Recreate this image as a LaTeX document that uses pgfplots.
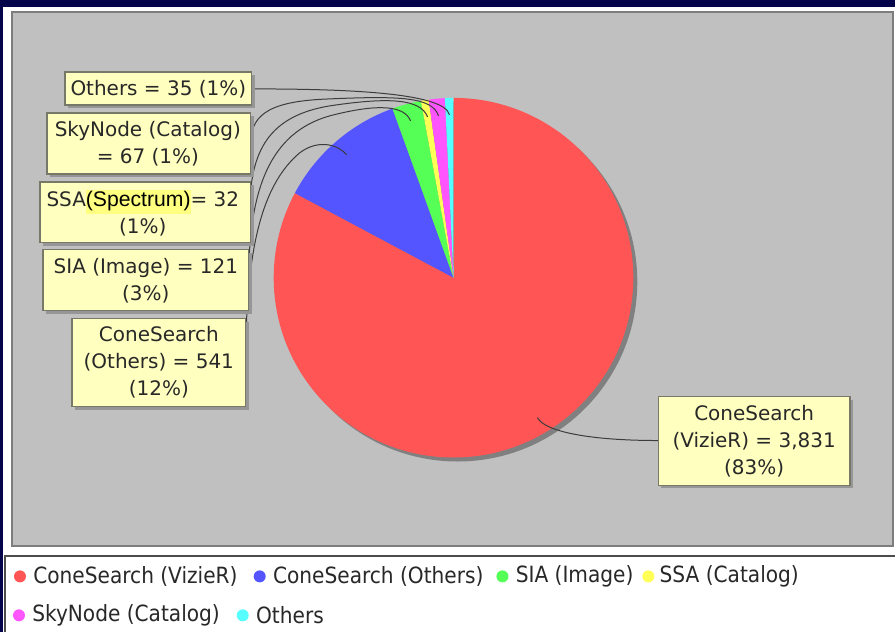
\documentclass[border=0pt]{standalone}
\usepackage{pgfplots}
\pgfplotsset{compat=1.18}
\usepackage{fontspec}
\setmainfont{DejaVu Sans}
\newfontfamily\legendfont{DejaVu Sans Condensed}
\newfontfamily\arialfont{Liberation Sans}
\definecolor{navy}{RGB}{4,4,74}
\definecolor{plotgray}{RGB}{192,192,192}
\definecolor{framegray}{RGB}{125,125,125}
\definecolor{labelbg}{RGB}{255,255,192}
\definecolor{labelborder}{RGB}{120,120,105}
\definecolor{labelshadow}{RGB}{150,150,150}
\definecolor{pieshadow}{RGB}{128,128,128}
\definecolor{cred}{RGB}{255,85,85}
\definecolor{cblue}{RGB}{85,85,255}
\definecolor{cgreen}{RGB}{85,255,85}
\definecolor{cyellow}{RGB}{255,255,85}
\definecolor{cmagenta}{RGB}{255,85,255}
\definecolor{ccyan}{RGB}{85,255,255}
\definecolor{hl}{RGB}{255,255,128}
\definecolor{leader}{RGB}{60,60,60}
\definecolor{txt}{RGB}{40,40,40}
\tikzset{labelbox/.style={fill=labelbg, draw=labelborder, line width=0.75pt}}
\begin{document}
\begin{tikzpicture}
% slice values
\def\vA{3831}\def\vB{541}\def\vC{121}\def\vD{32}\def\vE{67}\def\vF{35}
\pgfmathsetmacro\tot{\vA+\vB+\vC+\vD+\vE+\vF}
\pgfmathsetmacro\aA{90}
\pgfmathsetmacro\aB{\aA-\vA/\tot*360}
\pgfmathsetmacro\aC{\aB-\vB/\tot*360}
\pgfmathsetmacro\aD{\aC-\vC/\tot*360}
\pgfmathsetmacro\aE{\aD-\vD/\tot*360}
\pgfmathsetmacro\aF{\aE-\vE/\tot*360}
\pgfmathsetmacro\aG{\aF-\vF/\tot*360}
\def\R{90pt}
\begin{axis}[
  width=448pt, height=316.5pt, scale only axis,
  xmin=0, xmax=896, ymin=0, ymax=633, y dir=reverse,
  axis lines=none, clip=false, ticks=none,
]
% frame
\fill[navy] (axis cs:0,0) rectangle (axis cs:896,633);
\fill[white] (axis cs:3,7) rectangle (axis cs:896,633);
\filldraw[fill=plotgray, draw=framegray, line width=1pt] (axis cs:12,12) rectangle (axis cs:894,547);
% pie shadow
\fill[pieshadow] (axis cs:458,282) circle[radius=\R];
% slices
\fill[cred] (axis cs:454,278) -- ++(\aA:\R) arc[start angle=\aA, end angle=\aB, radius=\R] -- cycle;
\fill[cblue] (axis cs:454,278) -- ++(\aB:\R) arc[start angle=\aB, end angle=\aC, radius=\R] -- cycle;
\fill[cgreen] (axis cs:454,278) -- ++(\aC:\R) arc[start angle=\aC, end angle=\aD, radius=\R] -- cycle;
\fill[cyellow] (axis cs:454,278) -- ++(\aD:\R) arc[start angle=\aD, end angle=\aE, radius=\R] -- cycle;
\fill[cmagenta] (axis cs:454,278) -- ++(\aE:\R) arc[start angle=\aE, end angle=\aF, radius=\R] -- cycle;
\fill[ccyan] (axis cs:454,278) -- ++(\aF:\R) arc[start angle=\aF, end angle=\aG, radius=\R] -- cycle;
% leader lines
\draw[leader, line width=0.5pt] (axis cs:252,89) .. controls (axis cs:340,89) and (axis cs:445,92) .. (axis cs:450,115);
\draw[leader, line width=0.5pt] (axis cs:251,143) .. controls (axis cs:251,112) and (axis cs:275,101) .. (axis cs:330,99) .. controls (axis cs:400,96) and (axis cs:433,97) .. (axis cs:439,116);
\draw[leader, line width=0.5pt] (axis cs:250,212) .. controls (axis cs:250,150) and (axis cs:270,116) .. (axis cs:330,106) .. controls (axis cs:390,97) and (axis cs:421,99) .. (axis cs:428,117);
\draw[leader, line width=0.5pt] (axis cs:249,280) .. controls (axis cs:249,190) and (axis cs:270,133) .. (axis cs:330,116) .. controls (axis cs:380,103) and (axis cs:405,106) .. (axis cs:411,121);
\draw[leader, line width=0.5pt] (axis cs:246,363) .. controls (axis cs:246,250) and (axis cs:262,185) .. (axis cs:300,153) .. controls (axis cs:320,138) and (axis cs:340,146) .. (axis cs:347,155);
\draw[leader, line width=0.5pt] (axis cs:659,441) .. controls (axis cs:590,441) and (axis cs:545,432) .. (axis cs:538,418);
% label boxes (shadow, then box)
\fill[labelshadow] (axis cs:68,75) rectangle (axis cs:255,108);
\filldraw[labelbox] (axis cs:65,72) rectangle (axis cs:252,105);
\fill[labelshadow] (axis cs:50,116) rectangle (axis cs:254,177);
\filldraw[labelbox] (axis cs:47,113) rectangle (axis cs:251,174);
\fill[labelshadow] (axis cs:43,185) rectangle (axis cs:254,246);
\filldraw[labelbox] (axis cs:40,182) rectangle (axis cs:251,243);
\fill[labelshadow] (axis cs:46,253) rectangle (axis cs:252,314);
\filldraw[labelbox] (axis cs:43,250) rectangle (axis cs:249,311);
\fill[labelshadow] (axis cs:75,322) rectangle (axis cs:249,410);
\filldraw[labelbox] (axis cs:72,319) rectangle (axis cs:246,407);
\fill[labelshadow] (axis cs:662,400) rectangle (axis cs:854,489);
\filldraw[labelbox] (axis cs:659,397) rectangle (axis cs:851,486);
\begin{scope}[every node/.style={inner sep=0pt, align=center, text=txt, font=\fontsize{10}{13.5}\selectfont}]
\node at (axis cs:158.5,89) {Others = 35 (1\%)};
\node at (axis cs:148,144) {SkyNode (Catalog)\\= 67 (1\%)};
\node at (axis cs:143,213) {SSA{\setlength{\fboxsep}{0pt}\colorbox{hl}{\arialfont\color{black}\fontsize{10.6}{12}\selectfont\strut(Spectrum)}}= 32\\(1\%)};
\node at (axis cs:146,281) {SIA (Image) = 121\\(3\%)};
\node at (axis cs:159,363) {ConeSearch\\(Others) = 541\\(12\%)};
\node at (axis cs:755,442) {ConeSearch\\(VizieR) = 3,831\\(83\%)};
\end{scope}
% legend
\fill[white] (axis cs:5,557) rectangle (axis cs:896,633);
\draw[black!70, line width=1pt] (axis cs:5,633) -- (axis cs:5,557) -- (axis cs:896,557);
\begin{scope}[every node/.style={inner sep=0pt, anchor=west, text=txt, font=\legendfont\fontsize{11.2}{13}\selectfont}]
\fill[cred] (axis cs:20,577) circle[radius=3pt];
\node at (axis cs:33,577) {ConeSearch (VizieR)};
\fill[cblue] (axis cs:260,577) circle[radius=3pt];
\node at (axis cs:273,577) {ConeSearch (Others)};
\fill[cgreen] (axis cs:503,577) circle[radius=3pt];
\node at (axis cs:516,577) {SIA (Image)};
\fill[cyellow] (axis cs:649,577) circle[radius=3pt];
\node at (axis cs:660,577) {SSA (Catalog)};
\fill[cmagenta] (axis cs:19,616) circle[radius=3pt];
\node at (axis cs:32,616) {SkyNode (Catalog)};
\fill[ccyan] (axis cs:243,616) circle[radius=3pt];
\node at (axis cs:256,616) {Others};
\end{scope}
\end{axis}
\end{tikzpicture}
\end{document}
